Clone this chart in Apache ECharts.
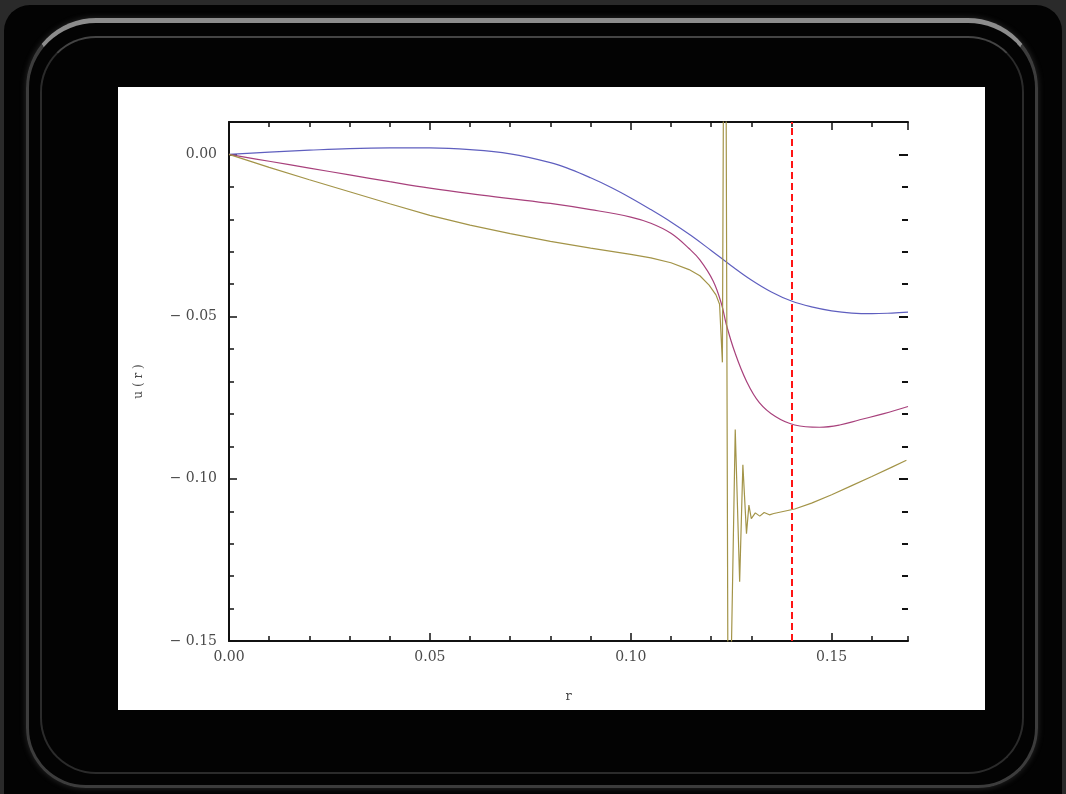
<!DOCTYPE html>
<html>
<head>
<meta charset="utf-8">
<script src="https://cdn.jsdelivr.net/npm/echarts@6/dist/echarts.min.js"></script>
<style>
html, body { margin: 0; padding: 0; background: #2a2a2a; }
#wrap { position: relative; width: 1066px; height: 794px; overflow: hidden; }
.tv { position: absolute; left: 4px; top: 5px; width: 1058px; height: 840px; background: #030303; border-radius: 26px; }
.rim { position: absolute; left: 26px; top: 18px; width: 1012px; height: 770px; box-sizing: border-box;
       border-radius: 70px 70px 60px 60px; border: 3px solid #3c3c3c; border-top: 5px solid #8c8c8c;
       box-shadow: 0 0 6px rgba(160,160,160,0.25); }
.rim2 { position: absolute; left: 40px; top: 36px; width: 984px; height: 738px; box-sizing: border-box;
        border-radius: 56px; border: 2px solid #2b2b2b; border-top-color: #444; }
.screen { position: absolute; left: 118px; top: 87px; width: 867px; height: 623px; background: #fff; }
#chart { position: absolute; left: 0; top: 0; width: 1066px; height: 794px; }
</style>
</head>
<body>
<div id="wrap">
  <div class="tv"></div>
  <div class="rim"></div>
  <div class="rim2"></div>
  <div class="screen"></div>
  <div id="chart"></div>
</div>
<script>
// u(r) curves, [r, u]
const uBlue = [
    [0, 0], [0.01, 0.0007], [0.02, 0.0013], [0.03, 0.0018], [0.04, 0.002], [0.05, 0.002],
    [0.06, 0.0015], [0.07, 0.0002], [0.08, -0.0025], [0.085, -0.0046], [0.09, -0.0072],
    [0.095, -0.0101], [0.10, -0.0134], [0.105, -0.017], [0.11, -0.0208], [0.115, -0.025],
    [0.12, -0.0296], [0.125, -0.0343], [0.13, -0.0387], [0.135, -0.0424], [0.14, -0.0452],
    [0.145, -0.047], [0.15, -0.0482], [0.155, -0.0489], [0.16, -0.0491], [0.165, -0.0489], [0.169, -0.0486]
]
const uMagenta = [
    [0, 0], [0.01, -0.0021], [0.02, -0.0042], [0.03, -0.0063], [0.04, -0.0084], [0.05, -0.0104],
    [0.06, -0.0121], [0.07, -0.0136], [0.08, -0.0151], [0.09, -0.017], [0.10, -0.0193],
    [0.105, -0.0212], [0.11, -0.0243], [0.1145, -0.029], [0.1172, -0.0325], [0.1205, -0.039],
    [0.1226, -0.0462], [0.1238, -0.0525], [0.1259, -0.061], [0.1288, -0.0699], [0.132, -0.0765],
    [0.136, -0.0808], [0.1408, -0.0834], [0.147, -0.0841], [0.152, -0.0834], [0.157, -0.0818],
    [0.163, -0.0799], [0.169, -0.0777]
]
const uOlive = [
    [0, 0], [0.01, -0.004], [0.02, -0.0078], [0.03, -0.0115], [0.04, -0.0152], [0.05, -0.0188],
    [0.06, -0.0218], [0.07, -0.0244], [0.08, -0.0268], [0.09, -0.0289], [0.10, -0.0308],
    [0.105, -0.0319], [0.11, -0.0334], [0.1145, -0.0355], [0.1172, -0.0374], [0.1195, -0.0403],
    [0.1212, -0.0433], [0.1221, -0.0462], [0.1228, -0.0641], [0.1231, 0.03], [0.1237, 0.03],
    [0.1242, -0.17], [0.1248, -0.17], [0.126, -0.0848], [0.1271, -0.1317], [0.1279, -0.0957],
    [0.1288, -0.1169], [0.1294, -0.1081], [0.13, -0.1123], [0.131, -0.1105], [0.1321, -0.1115],
    [0.1332, -0.1104], [0.1345, -0.1111], [0.1356, -0.1107], [0.1408, -0.1093], [0.145, -0.1075],
    [0.15, -0.1049], [0.155, -0.1021], [0.16, -0.0993], [0.165, -0.0964], [0.1686, -0.0943]
]
const cutoffR = 0.1409

const rRange = [0, 0.169]
const uRange = [-0.15, 0.01]
const majorStep = 0.05
const minorStep = 0.01

const labelFont = { fontFamily: 'DejaVu Serif', fontSize: 14, color: '#4a4a4a' }

function fmtR(v) {
    return v.toFixed(2)
}
function fmtU(v) {
    if (Math.abs(v) < 1e-9) return '0.00'
    return (v < 0 ? '\u2212 ' : '') + Math.abs(v).toFixed(2)
}

function axis(dir, pos, step, len, opt) {
    const range = dir === 'x' ? rRange : uRange
    return Object.assign({
        type: 'value',
        position: pos,
        min: range[0],
        max: range[1],
        interval: step,
        splitLine: { show: false },
        axisLine: { show: false, onZero: false },
        axisTick: { show: true, inside: true, length: len, lineStyle: { color: '#111', width: 1.5 } },
        axisLabel: { show: false }
    }, opt || {})
}

const frameLine = { show: true, onZero: false, lineStyle: { color: '#111', width: 2 } }

const option = {
    backgroundColor: 'transparent',
    animation: false,
    grid: { left: 229, top: 122, right: 158, bottom: 153, containLabel: false },
    xAxis: [
        axis('x', 'bottom', majorStep, 8, {
            axisLine: frameLine,
            name: 'r',
            nameLocation: 'middle',
            nameGap: 49,
            nameTextStyle: { fontFamily: 'DejaVu Serif', fontSize: 13, color: '#4a4a4a' },
            axisLabel: Object.assign({ show: true, margin: 9, showMaxLabel: false, formatter: fmtR }, labelFont)
        }),
        axis('x', 'bottom', minorStep, 5),
        axis('x', 'top', majorStep, 8, { axisLine: frameLine }),
        axis('x', 'top', minorStep, 5)
    ],
    yAxis: [
        axis('y', 'left', majorStep, 8, {
            axisLine: frameLine,
            name: 'u ( r )',
            nameLocation: 'middle',
            nameRotate: 90,
            nameGap: 84,
            nameTextStyle: { fontFamily: 'DejaVu Serif', fontSize: 12, color: '#4a4a4a' },
            axisLabel: Object.assign({ show: true, margin: 12, showMaxLabel: false, formatter: fmtU }, labelFont)
        }),
        axis('y', 'left', minorStep, 5),
        axis('y', 'right', majorStep, 9, { axisTick: { show: true, inside: true, length: 9, lineStyle: { color: '#111', width: 2 } } }),
        axis('y', 'right', minorStep, 6, { axisTick: { show: true, inside: true, length: 6, lineStyle: { color: '#111', width: 2 } } })
    ],
    series: [
        {
            name: 'blue',
            type: 'line',
            data: uBlue,
            showSymbol: false,
            smooth: 0.4,
            clip: true,
            lineStyle: { color: '#5f5fbf', width: 1.2 },
            markLine: {
                silent: true,
                symbol: ['none', 'none'],
                label: { show: false },
                lineStyle: { color: '#ff1414', width: 2, type: [7, 4] },
                data: [{ xAxis: cutoffR }]
            }
        },
        {
            name: 'magenta',
            type: 'line',
            data: uMagenta,
            showSymbol: false,
            smooth: 0.4,
            clip: true,
            lineStyle: { color: '#a8417c', width: 1.2 }
        },
        {
            name: 'olive',
            type: 'line',
            data: uOlive,
            showSymbol: false,
            clip: true,
            lineStyle: { color: '#a39448', width: 1.2 }
        }
    ]
}

const chart = echarts.init(document.getElementById('chart'), null, { renderer: 'canvas' })
chart.setOption(option)
</script>
</body>
</html>
